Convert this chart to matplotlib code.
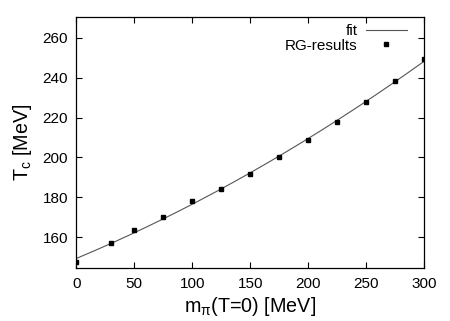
import numpy as np
import matplotlib
matplotlib.use("Agg")
import matplotlib.pyplot as plt

plt.rcParams["font.family"] = ["Liberation Sans", "DejaVu Sans"]
plt.rcParams["mathtext.fontset"] = "custom"
plt.rcParams["mathtext.rm"] = "Liberation Sans"
plt.rcParams["mathtext.it"] = "Liberation Sans"

# RG results
m_pi = [0, 30, 50, 75, 100, 125, 150, 175, 200, 225, 250, 275, 300]
t_c = [147.5, 157.3, 163.7, 170.3, 178.0, 184.0, 191.7, 200.1, 208.6, 218.0, 228.0, 238.3, 249.1]

x_ticks = [0, 50, 100, 150, 200, 250, 300]
y_ticks = [160, 180, 200, 220, 240, 260]

# smooth fit through the points
coef = np.polyfit(m_pi, t_c, 2)
xf = np.linspace(0, 300, 200)
yf = np.polyval(coef, xf)

fig = plt.figure(figsize=(4.5, 3.21), dpi=100)
ax = fig.add_axes([76.3 / 450, 1 - 268.3 / 321, (424.3 - 76.3) / 450, (268.3 - 17.3) / 321])

ax.plot(xf, yf, color="#555555", lw=0.8, label="fit")
ax.plot(m_pi, t_c, ls="none", marker="s", ms=3.2, color="black", label="RG-results")

ax.set_xlim(0, 300)
ax.set_ylim(144.5, 270.2)
ax.set_xticks(x_ticks)
ax.set_yticks(y_ticks)
ax.tick_params(direction="in", length=4, width=0.8, top=True, right=True, labelsize=11, pad=6)
for s in ax.spines.values():
    s.set_linewidth(0.9)

ax.set_xlabel(r"m$_\pi$(T=0) [MeV]", fontsize=14.2, labelpad=3)
ax.set_ylabel(r"T$_\mathrm{c}$ [MeV]", fontsize=14.2, labelpad=6)

ax.legend(loc="upper right", bbox_to_anchor=(407 / 450, 1 - 24 / 321),
          bbox_transform=fig.transFigure, frameon=False, fontsize=11, markerfirst=False,
          handlelength=2.7, borderpad=0, borderaxespad=0, labelspacing=0.05, handletextpad=0.55)

fig.savefig("out.png", dpi=100)
